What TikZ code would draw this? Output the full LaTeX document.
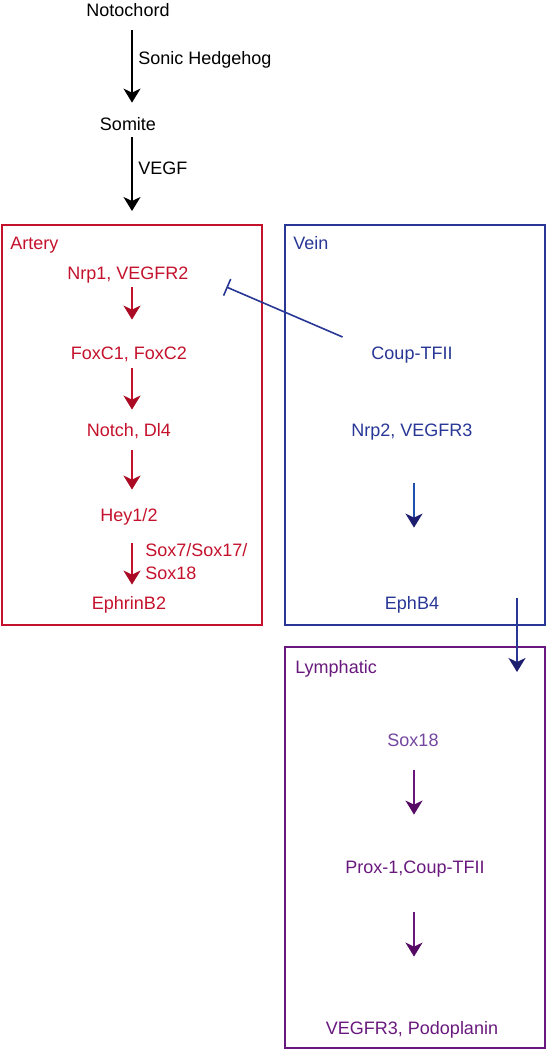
\documentclass[tikz,border=0pt]{standalone}
\usepackage{fontspec}
\setmainfont{Liberation Sans}
\usetikzlibrary{arrows.meta}
\definecolor{art}{RGB}{196,18,44}
\definecolor{artdark}{RGB}{170,10,35}
\definecolor{vein}{RGB}{40,55,150}
\definecolor{veindark}{RGB}{30,30,110}
\definecolor{veinarr}{RGB}{30,80,175}
\definecolor{lym}{RGB}{105,25,125}
\definecolor{lymdark}{RGB}{85,10,100}
\definecolor{lymlight}{RGB}{115,70,160}
\begin{document}
\begin{tikzpicture}[x=0.5pt,y=-0.5pt,
  lbl/.style={font=\fontsize{9}{11}\selectfont, inner sep=0pt, text height=6.5pt, text depth=0pt},
  box/.style={draw, line width=1pt, inner sep=0pt},
  arr/.style={line width=1pt, -{Stealth[length=7pt,width=8.5pt,inset=2pt]}},
  carr/.style={line width=1pt, -{Stealth[length=7pt,width=8.5pt,inset=2pt,color=#1]}},
  inh/.style={line width=0.8pt, draw=vein, -{Bar[width=9pt,line width=0.8pt]}}]
\useasboundingbox (0,0) rectangle (546,1050);
% boxes
\node[box, draw=art, minimum width=130pt, minimum height=200pt] (artery) at (132,425) {};
\node[box, draw=vein, minimum width=130pt, minimum height=200pt] (vein) at (415,425) {};
\node[box, draw=lym, minimum width=130pt, minimum height=200.5pt] (lymph) at (415,847.5) {};
% top
\node[lbl] (noto) at (128,10) {Notochord};
\node[lbl] (somite) at (128,124) {Somite};
\node[lbl, anchor=west] (shh) at (138,58) {Sonic Hedgehog};
\node[lbl, anchor=west] (vegf) at (138,168) {VEGF};
\draw[arr, shorten <=6.75pt, shorten >=7.25pt] ([shift={(4,0)}]noto.south) -- ([shift={(4,0)}]somite.north);
\draw[arr, shorten <=3.25pt, shorten >=6.5pt] ([shift={(4,0)}]somite.south) -- (artery.north);
% artery
\begin{scope}[every node/.append style={text=art}]
\node[lbl, anchor=west] (artlbl) at (10,243) {Artery};
\node[lbl] (nrp1) at (128,273) {Nrp1, VEGFR2};
\node[lbl] (foxc) at (129,353) {FoxC1, FoxC2};
\node[lbl] (notch) at (129,430) {Notch, Dl4};
\node[lbl] (hey) at (129,515) {Hey1/2};
\node[lbl] (ephrin) at (129,603) {EphrinB2};
\node[lbl, anchor=west] (soxa) at (145,550) {Sox7/Sox17/};
\node[lbl, anchor=west] (soxb) at (145,573) {Sox18};
\end{scope}
\begin{scope}[draw=art]
\draw[carr=artdark, shorten <=3.75pt, shorten >=13.25pt] ([shift={(4,0)}]nrp1.south) -- ([shift={(3,0)}]foxc.north);
\draw[carr=artdark, shorten <=4.25pt, shorten >=6.75pt] ([shift={(3,0)}]foxc.south) -- ([shift={(3,0)}]notch.north);
\draw[carr=artdark, shorten <=6.75pt, shorten >=9.25pt] ([shift={(3,0)}]notch.south) -- ([shift={(3,0)}]hey.north);
\draw[carr=artdark, shorten <=10.75pt, shorten >=5.75pt] ([shift={(3,0)}]hey.south) -- ([shift={(3,0)}]ephrin.north);
\end{scope}
% vein
\begin{scope}[every node/.append style={text=vein}]
\node[lbl, anchor=west] (veinlbl) at (293,243) {Vein};
\node[lbl] (coup) at (412,353) {Coup-TFII};
\node[lbl] (nrp2) at (412,430) {Nrp2, VEGFR3};
\node[lbl] (ephb4) at (412,603) {EphB4};
\end{scope}
\draw[carr=veindark, draw=veinarr, shorten <=23.25pt, shorten >=34.25pt] ([shift={(2,0)}]nrp2.south) -- ([shift={(2,0)}]ephb4.north);
\draw[inh] ([shift={(-28.5,-16)}]coup.west) -- ([shift={(37.5,14)}]nrp1.east);
\draw[carr=veindark, draw=vein] ([shift={(-29,-28)}]vein.south east) -- ([shift={(-29,26)}]lymph.north east);
% lymphatic
\node[lbl, anchor=west, text=lym] (lymlbl) at (295,667) {Lymphatic};
\node[lbl, text=lymlight] (sox18) at (413,740) {Sox18};
\node[lbl, text=lym] (prox) at (415,867) {Prox-1,Coup-TFII};
\node[lbl, text=lym] (podo) at (412,1028) {VEGFR3, Podoplanin};
\begin{scope}[draw=lym]
\draw[carr=lymdark, shorten <=11.75pt, shorten >=22.75pt] ([shift={(1,0)}]sox18.south) -- ([shift={(-1,0)}]prox.north);
\draw[carr=lymdark, shorten <=19.25pt, shorten >=32.25pt] ([shift={(-1,0)}]prox.south) -- ([shift={(2,0)}]podo.north);
\end{scope}
\end{tikzpicture}
\end{document}
